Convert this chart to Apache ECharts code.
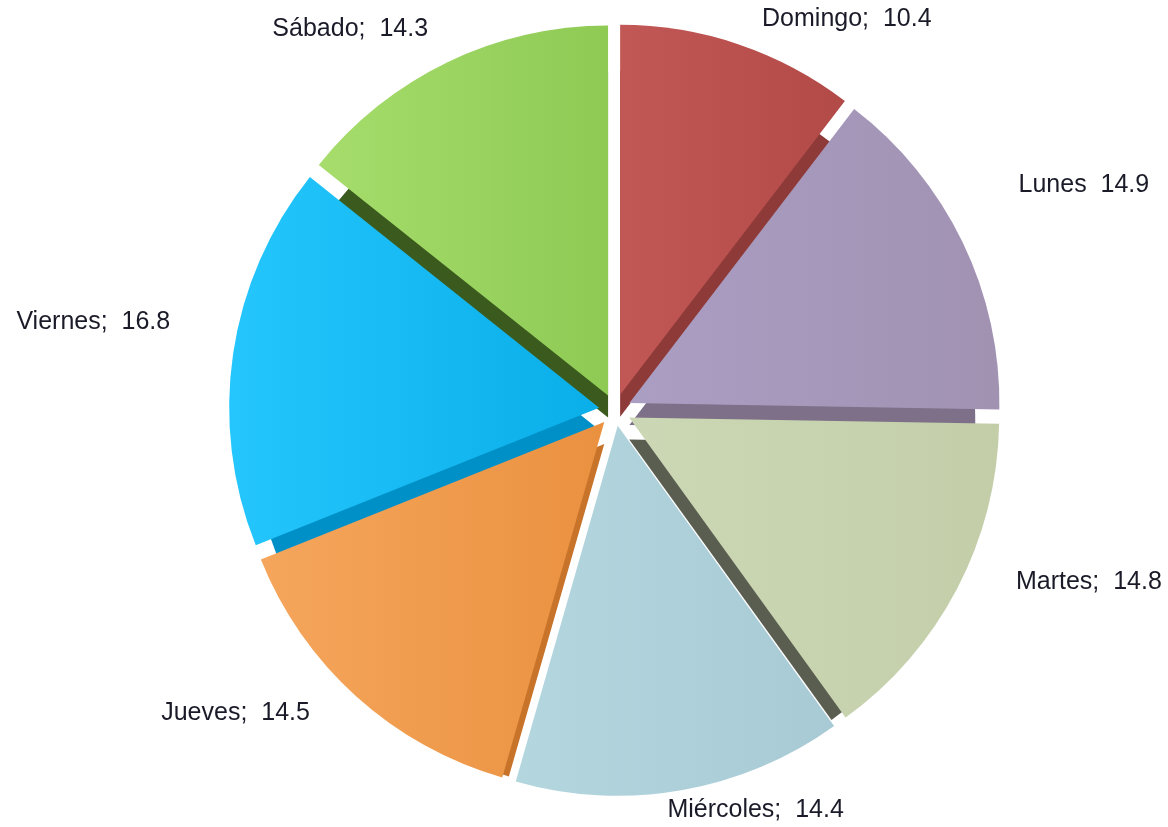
<!DOCTYPE html>
<html>
<head>
<meta charset="utf-8">
<script src="https://cdn.jsdelivr.net/npm/echarts@6/dist/echarts.min.js"></script>
<style>
  html, body { margin: 0; padding: 0; background: #fff; }
  #chart { width: 1168px; height: 827px; }
</style>
</head>
<body>
<div id="chart"></div>
<script>
  // dias de la semana y porcentajes
  var dias = ['Domingo', 'Lunes', 'Martes', 'Miércoles', 'Jueves', 'Viernes', 'Sábado'];
  var valores = [10.4, 14.9, 14.8, 14.4, 14.5, 16.8, 14.3];
  var etiquetas = ['Domingo;  10.4', 'Lunes  14.9', 'Martes;  14.8', 'Miércoles;  14.4', 'Jueves;  14.5', 'Viernes;  16.8', 'Sábado;  14.3'];

  // colores: claro (izq), oscuro (der), lateral 3d
  var claros = ['#c25856', '#ab9ec3', '#ccd7b5', '#b3d6df', '#f5a65c', '#24c6fd', '#a6dd6c'];
  var oscuros = ['#b24a48', '#a192b2', '#c3cea9', '#a8cad4', '#ea9140', '#0aaee8', '#8fca55'];
  var laterales = ['#8e3a38', '#7d7088', '#5a5e50', '#7d97a0', '#c8732a', '#0090c8', '#3b5a1e'];

  // colocacion de las etiquetas (linea oculta)
  var lineaLargo = [29, 20, 1, 18, 20, 10, 38];
  var lineaLargo2 = [14, 38, 58, 1, 33, 53, 3];
  var ajusteX = [0, 0, 0, -18, 0, 0, 0];
  var ajusteY = [2, -48, -7, 2, 2, -30, 1];

  var frente = [], fondo = [];
  for (var i = 0; i < dias.length; i++) {
    frente.push({
      name: dias[i],
      value: valores[i],
      selected: true,
      label: { formatter: etiquetas[i] },
      labelLine: { show: false, length: lineaLargo[i], length2: lineaLargo2[i] },
      itemStyle: {
        color: new echarts.graphic.LinearGradient(0, 0, 1, 0, [
          { offset: 0, color: claros[i] },
          { offset: 1, color: oscuros[i] }
        ])
      }
    });
    fondo.push({
      name: dias[i],
      value: valores[i],
      selected: true,
      itemStyle: { color: laterales[i] }
    });
  }

  var chart = echarts.init(document.getElementById('chart'));
  chart.setOption({
    animation: false,
    series: [
      {
        // cara lateral (efecto 3d)
        type: 'pie',
        z: 1,
        silent: true,
        center: [615, 432],
        radius: 346,
        startAngle: 90,
        selectedMode: 'multiple',
        selectedOffset: 16,
        label: { show: false },
        labelLine: { show: false },
        data: fondo
      },
      {
        type: 'pie',
        z: 2,
        center: [615, 410],
        radius: 370,
        startAngle: 90,
        selectedMode: 'multiple',
        selectedOffset: 16,
        avoidLabelOverlap: false,
        label: {
          position: 'outside',
          distanceToLabelLine: 0,
          fontFamily: 'Liberation Sans, Arial',
          fontSize: 25,
          color: '#1a1a28'
        },
        labelLayout: function (params) {
          return { dx: ajusteX[params.dataIndex], dy: ajusteY[params.dataIndex] };
        },
        data: frente
      }
    ]
  });
</script>
</body>
</html>
